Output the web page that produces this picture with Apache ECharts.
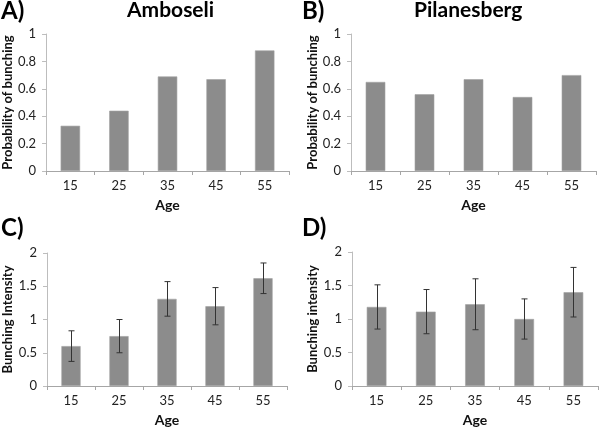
<!DOCTYPE html>
<html><head><meta charset="utf-8">
<script src="https://cdn.jsdelivr.net/npm/echarts@6/dist/echarts.min.js"></script>
<style>html,body{margin:0;padding:0;background:#fff}#c{width:600px;height:428px}</style>
</head><body><div id="c"></div>
<script>
const ages = ['15', '25', '35', '45', '55'];
const amboseliProb = [0.33, 0.44, 0.69, 0.67, 0.88];
const pilanesbergProb = [0.65, 0.56, 0.67, 0.54, 0.70];
const amboseliIntensity = [0.60, 0.75, 1.31, 1.20, 1.62];
const amboseliErr = [0.23, 0.25, 0.26, 0.28, 0.23];
const pilanesbergIntensity = [1.18, 1.11, 1.22, 1.00, 1.40];
const pilanesbergErr = [0.33, 0.33, 0.38, 0.30, 0.37];
const probAxis = {min: 0, max: 1, interval: 0.2};
const intensityAxis = {min: 0, max: 2, interval: 0.5};

const FONT = 'Lato, "Open Sans", sans-serif';
const chart = echarts.init(document.getElementById('c'));

function xAx(gi) {
  return {
    type: 'category', gridIndex: gi, data: ages,
    name: 'Age', nameLocation: 'middle', nameGap: 27,
    nameTextStyle: {fontFamily: FONT, fontWeight: 'bold', fontSize: 14, color: '#111'},
    axisLine: {lineStyle: {color: '#a6a6a6', width: 1}},
    axisTick: {show: true, length: 4, lineStyle: {color: '#a6a6a6'}},
    axisLabel: {fontFamily: FONT, fontSize: 13, color: '#222', margin: 8}
  };
}
function yAx(gi, cfg, name, gap) {
  return {
    type: 'value', gridIndex: gi, min: cfg.min, max: cfg.max, interval: cfg.interval,
    name: name, nameLocation: 'middle', nameGap: gap, nameRotate: 90,
    nameTextStyle: {fontFamily: FONT, fontWeight: 'bold', fontSize: 13, color: '#111'},
    axisLine: {show: true, lineStyle: {color: '#bdbdbd', width: 1}},
    axisTick: {show: true, length: 4, lineStyle: {color: '#bdbdbd'}},
    splitLine: {show: false},
    axisLabel: {fontFamily: FONT, fontSize: 13, color: '#222', margin: 10}
  };
}
function bar(gi, data) {
  return {
    type: 'bar', xAxisIndex: gi, yAxisIndex: gi, data: data, barWidth: '40%', z: 2,
    itemStyle: {color: '#8c8c8c', borderColor: '#a3a3a3', borderWidth: 0.6},
    silent: true, animation: false
  };
}
function errBars(gi, vals, errs) {
  return {
    type: 'custom', xAxisIndex: gi, yAxisIndex: gi, silent: true, animation: false, z: 5,
    data: vals.map((v, i) => [i, v - errs[i], v + errs[i]]),
    renderItem: function (params, api) {
      const lo = api.coord([api.value(0), api.value(1)]);
      const hi = api.coord([api.value(0), api.value(2)]);
      const x = Math.round(lo[0]) + 0.5, w = 3;
      const st = {stroke: '#333', lineWidth: 1};
      return {type: 'group', children: [
        {type: 'line', shape: {x1: x, y1: lo[1], x2: x, y2: hi[1]}, style: st},
        {type: 'line', shape: {x1: x - w, y1: hi[1], x2: x + w, y2: hi[1]}, style: st},
        {type: 'line', shape: {x1: x - w, y1: lo[1], x2: x + w, y2: lo[1]}, style: st}
      ]};
    }
  };
}
function t(text, left, top, size) {
  return {text: text, left: left, top: top, padding: 0,
    textStyle: {fontFamily: FONT, fontWeight: 'bold', fontSize: size, color: '#000'}};
}

chart.setOption({
  animation: false,
  title: [
    t('A)', 1, -1, 24), t('Amboseli', 127, 0, 21),
    t('B)', 302, -1, 24), t('Pilanesberg', 414, 0, 21),
    t('C)', 1, 216, 24), t('D)', 302, 216, 24)
  ],
  grid: [
    {left: 45, top: 34, width: 244, height: 137},
    {left: 351, top: 34, width: 245, height: 137},
    {left: 44, top: 253, width: 243, height: 134},
    {left: 352, top: 252, width: 246, height: 134}
  ],
  xAxis: [xAx(0), xAx(1), xAx(2), xAx(3)],
  yAxis: [
    yAx(0, probAxis, 'Probability of bunching', 31),
    yAx(1, probAxis, 'Probability of bunching', 31),
    yAx(2, intensityAxis, 'Bunching Intensity', 33),
    yAx(3, intensityAxis, 'Bunching intensity', 33)
  ],
  series: [
    bar(0, amboseliProb), bar(1, pilanesbergProb),
    bar(2, amboseliIntensity), bar(3, pilanesbergIntensity),
    errBars(2, amboseliIntensity, amboseliErr),
    errBars(3, pilanesbergIntensity, pilanesbergErr)
  ]
});
</script></body></html>
